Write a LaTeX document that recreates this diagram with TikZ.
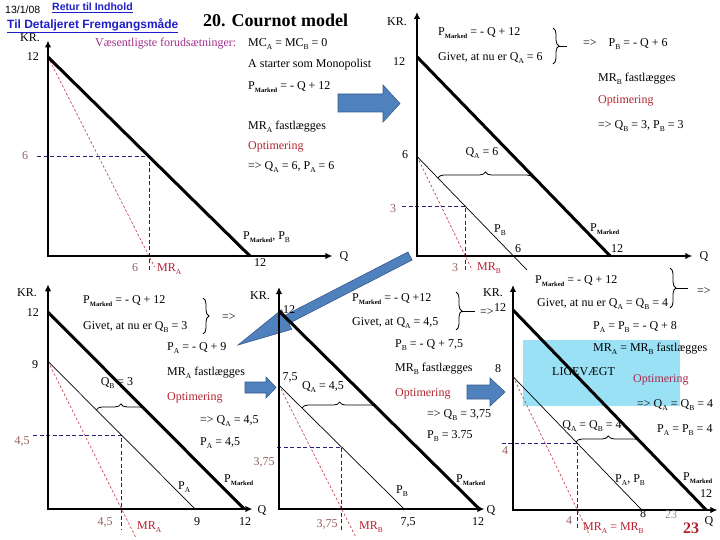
\documentclass[tikz,border=0pt]{standalone}
\usepackage{fontspec}
\setmainfont{Liberation Serif}
\setsansfont{Liberation Sans}
\usepackage{tikz}
\usetikzlibrary{calc,positioning,arrows.meta,decorations.pathreplacing}
\definecolor{linkc}{RGB}{30,30,200}
\definecolor{premc}{RGB}{160,45,140}
\definecolor{optc}{RGB}{175,35,45}
\definecolor{mrc}{RGB}{185,30,45}
\definecolor{tickc}{RGB}{150,95,95}
\definecolor{guidec}{RGB}{35,35,125}
\definecolor{arrc}{RGB}{79,129,189}
\definecolor{arrd}{RGB}{55,90,140}
\definecolor{eqc}{RGB}{155,225,245}
\newcommand{\bodyf}{\fontsize{12}{14}\selectfont}
\newcommand{\lsub}[1]{\raisebox{-0.45ex}{\fontsize{7.5}{8}\selectfont #1}}
\newcommand{\Pmk}{P\raisebox{-0.45ex}{\fontsize{6.5}{7}\selectfont\bfseries Marked}}
\tikzset{
  ax/.style={line width=2.4pt,{Latex[length=7pt,width=6.5pt]}-{Latex[length=7pt,width=6.5pt]}},
  dem/.style={line width=3pt},
  thn/.style={line width=0.7pt},
  mrl/.style={draw=mrc!80,line width=0.7pt,dash pattern=on 2.5pt off 2pt},
  gd/.style={draw=guidec,line width=0.9pt,dash pattern=on 4pt off 2.5pt},
  brc/.style={decorate,decoration={brace,amplitude=6pt},line width=0.8pt},
  txt/.style={anchor=west,inner sep=0pt,font=\bodyf},
  lab/.style={inner sep=0pt,font=\bodyf},
  tkl/.style={lab,text=tickc},
  mrt/.style={txt,text=mrc},
  blk/.style={fill=arrc,draw=arrd,line width=0.6pt},
}
\begin{document}
\begin{tikzpicture}[x=1pt,y=-1pt]
  \useasboundingbox (0,0) rectangle (720,540);
  % header
  \node[anchor=west,inner sep=0pt,font=\sffamily\fontsize{10.5}{12}\selectfont] (date) at (5,10) {13/1/08};
  \node[anchor=west,inner sep=0pt,font=\sffamily\bfseries\fontsize{10.5}{12}\selectfont,text=linkc] (ret) at (52,8) {\underline{Retur til Indhold}};
  \node[anchor=west,inner sep=0pt,font=\sffamily\bfseries\fontsize{12}{14}\selectfont,text=linkc] (det) at (7,26) {\underline{Til Detaljeret Fremgangsmåde}};
  \node[anchor=west,inner sep=0pt,font=\bfseries\fontsize{18}{20}\selectfont] (title) at (203,20) {20. Cournot model};
  % likevaegt box goes under everything
  \fill[eqc] (523,340) rectangle (680,406);
  % block arrows
  \filldraw[blk] (338,94) -- (383,94) -- (383,85) -- (400,103.5) -- (383,122) -- (383,112) -- (338,112) -- cycle;
  \filldraw[blk] (412.1,260) -- (288.8,323.5) -- (291.8,329.3) -- (238,345) -- (281.6,309.8) -- (284.6,315.5) -- (407.9,252) -- cycle;
  \filldraw[blk] (245,382) -- (266,382) -- (266,377) -- (276,387.5) -- (266,398) -- (266,393) -- (245,393) -- cycle;
  \filldraw[blk] (467,385) -- (490,385) -- (490,378) -- (505,392) -- (490,406) -- (490,399) -- (467,399) -- cycle;

  % panel 1: A som monopolist
  \begin{scope}[xshift=48pt,yshift=-256pt,x=16.83pt,y=16.58pt]
    \coordinate (o1) at (0,0); \coordinate (y1) at (0,13); \coordinate (x1) at (16.9,0);
    \coordinate (m1a) at (0,12); \coordinate (m1b) at (12,0); \coordinate (r1b) at (6.33,-0.66);
    \coordinate (g1) at (6,6); \coordinate (g1l) at (-0.65,6); \coordinate (g1d) at (6,-0.85);
    \draw[mrl] (m1a)--(r1b);
    \draw[gd] (g1l)--(g1)--(g1d);
    \draw[dem] (m1a)--(m1b);
    \draw[ax] (y1)--(o1)--(x1);
  \end{scope}
  \node[txt] (kr1) at (20,38) {KR.};
  \node[lab] (t1a) at (33,57) {12};
  \node[tkl] (t1b) at (25,156) {6}; \node[tkl] (t1c) at (135,268) {6};
  \node[mrt] (mra) at (157,269) {MR\lsub{A}};
  \node[txt] (pm1l) at (243,237) {\Pmk, P\lsub{B}};
  \node[lab] (t1d) at (260,263) {12}; \node[lab] (q1) at (344,256) {Q};
  \node[txt,text=premc] (forud) at (95,44) {Væsentligste forudsætninger:};
  \node[txt] (mc) at (248,44) {MC\lsub{A} = MC\lsub{B} = 0};
  \node[txt] (mono) at (248,65) {A starter som Monopolist};
  \node[txt] (pm1) at (248,87) {\Pmk{} = - Q + 12};
  \node[txt] (mra1) at (248,127) {MR\lsub{A} fastlægges};
  \node[txt,text=optc] (opt1) at (248,147) {Optimering};
  \node[txt] (res1) at (248,167) {=> Q\lsub{A} = 6, P\lsub{A} = 6};

  % panel 2: B svarer paa Q_A = 6
  \begin{scope}[xshift=417pt,yshift=-256pt,x=16.1pt,y=16.6pt]
    \coordinate (o2) at (0,0); \coordinate (y2) at (0,14.7); \coordinate (x2) at (17.1,0);
    \coordinate (m2a) at (0,12); \coordinate (m2b) at (12,0);
    \coordinate (p2a) at (0,6); \coordinate (p2b) at (6.83,-0.84); \coordinate (r2b) at (3.42,-0.84);
    \coordinate (g2) at (3,3); \coordinate (g2l) at (-0.93,3); \coordinate (g2d) at (3,-0.84);
    \coordinate (b2l) at (1.3,4.7); \coordinate (b2r) at (7.2,4.7);
    \draw[mrl] (p2a)--(r2b);
    \draw[gd] (g2l)--(g2)--(g2d);
    \draw[thn] (p2a)--(p2b);
    \draw[dem] (m2a)--(m2b);
    \draw[brc] (b2l)--(b2r);
    \draw[ax] (y2)--(o2)--(x2);
  \end{scope}
  \node[txt] (kr2) at (387,22) {KR.};
  \node[lab] (t2a) at (399,62) {12}; \node[lab] (t2b) at (405,155) {6};
  \node[tkl] (t2c) at (393,209) {3}; \node[tkl] (t2d) at (455,268) {3};
  \node[mrt] (mrb) at (477,268) {MR\lsub{B}};
  \node[lab] (t2e) at (518,249) {6};
  \node[txt] (pb2l) at (494,230) {P\lsub{B}};
  \node[txt] (pm2l) at (590,229) {\Pmk};
  \node[lab] (t2f) at (617,249) {12}; \node[lab] (q2) at (704,256) {Q};
  \node[lab] (qa2) at (482,153) {Q\lsub{A} = 6};
  \node[txt] (pm2) at (438,33) {\Pmk{} = - Q + 12};
  \node[txt] (giv2) at (438,58) {Givet, at nu er Q\lsub{A} = 6};
  \coordinate (c2t) at (553,28); \coordinate (c2b) at (553,64);
  \draw[brc] (c2t)--(c2b);
  \coordinate (k2a) at (559,46); \coordinate (k2b) at (567,46);
  \draw[line width=0.8pt] (k2a)--(k2b);
  \node[txt] (pb2) at (583,44) {=>\quad P\lsub{B} = - Q + 6};
  \node[txt] (mrb2) at (598,79) {MR\lsub{B} fastlægges};
  \node[txt,text=optc] (opt2) at (598,101) {Optimering};
  \node[txt] (res2) at (598,126) {=> Q\lsub{B} = 3, P\lsub{B} = 3};

  % panel 3: A svarer paa Q_B = 3
  \begin{scope}[xshift=48pt,yshift=-509pt,x=16.35pt,y=16.4pt]
    \coordinate (o3) at (0,0); \coordinate (y3) at (0,13.7); \coordinate (x3) at (12.5,0);
    \coordinate (m3a) at (0,12); \coordinate (m3b) at (12,0);
    \coordinate (p3a) at (0,9); \coordinate (p3b) at (9,0); \coordinate (r3b) at (5.35,-1.7);
    \coordinate (g3) at (4.5,4.5); \coordinate (g3l) at (-0.9,4.5); \coordinate (g3d) at (4.5,-1.3);
    \coordinate (b3l) at (2.96,6.04); \coordinate (b3r) at (5.96,6.04);
    \draw[mrl] (p3a)--(r3b);
    \draw[gd] (g3l)--(g3)--(g3d);
    \draw[thn] (p3a)--(p3b);
    \draw[dem] (m3a)--(m3b);
    \draw[brc] (b3l)--(b3r);
    \draw[ax] (y3)--(o3)--(x3);
  \end{scope}
  \node[txt] (kr3) at (17,293) {KR.};
  \node[lab] (t3a) at (33,313) {12}; \node[lab] (t3b) at (35,365) {9};
  \node[tkl] (t3c) at (22,441) {4,5}; \node[tkl] (t3d) at (105,522) {4,5};
  \node[mrt] (mra3) at (137,527) {MR\lsub{A}};
  \node[lab] (t3e) at (197,522) {9};
  \node[txt] (pa3l) at (178,487) {P\lsub{A}};
  \node[txt] (pm3l) at (224,480) {\Pmk};
  \node[lab] (t3f) at (245,522) {12}; \node[lab] (q3) at (262,510) {Q};
  \node[lab] (qb3) at (117,383) {Q\lsub{B} = 3};
  \node[txt] (pm3) at (83,301) {\Pmk{} = - Q + 12};
  \node[txt] (giv3) at (83,327) {Givet, at nu er Q\lsub{B} = 3};
  \coordinate (c3t) at (203,298); \coordinate (c3b) at (203,334);
  \draw[brc] (c3t)--(c3b);
  \node[txt] (im3) at (222,317) {=>};
  \node[txt] (pa3) at (167,348) {P\lsub{A} = - Q + 9};
  \node[txt] (mra3t) at (167,373) {MR\lsub{A} fastlægges};
  \node[txt,text=optc] (opt3) at (167,398) {Optimering};
  \node[txt] (res3) at (200,421) {=> Q\lsub{A} = 4,5};
  \node[txt] (pa3r) at (200,443) {P\lsub{A} = 4,5};

  % panel 4: B svarer paa Q_A = 4,5
  \begin{scope}[xshift=279pt,yshift=-509pt,x=16.7pt,y=16.5pt]
    \coordinate (o4) at (0,0); \coordinate (y4) at (0,13.45); \coordinate (x4) at (12.3,0);
    \coordinate (m4a) at (0,12); \coordinate (m4b) at (12,0);
    \coordinate (p4a) at (0,7.5); \coordinate (p4b) at (7.5,0); \coordinate (r4b) at (4.6,-1.7);
    \coordinate (g4) at (3.75,3.75); \coordinate (g4l) at (-0.1,3.75); \coordinate (g4d) at (3.75,-1.3);
    \coordinate (b4l) at (1.38,6.12); \coordinate (b4r) at (5.88,6.12);
    \draw[mrl] (p4a)--(r4b);
    \draw[gd] (g4l)--(g4)--(g4d);
    \draw[thn] (p4a)--(p4b);
    \draw[dem] (m4a)--(m4b);
    \draw[brc] (b4l)--(b4r);
    \draw[ax] (y4)--(o4)--(x4);
  \end{scope}
  \node[txt] (kr4) at (250,296) {KR.};
  \node[txt] (t4a) at (283,310) {12}; \node[lab] (t4b) at (290,377) {7,5};
  \node[tkl] (t4c) at (264,462) {3,75}; \node[tkl] (t4d) at (327,524) {3,75};
  \node[mrt] (mrb4) at (359,527) {MR\lsub{B}};
  \node[lab] (t4e) at (408,522) {7,5};
  \node[txt] (pb4l) at (396,491) {P\lsub{B}};
  \node[txt] (pm4l) at (456,480) {\Pmk};
  \node[lab] (t4f) at (478,522) {12}; \node[lab] (q4) at (491,510) {Q};
  \node[lab] (qa4) at (323,387) {Q\lsub{A} = 4,5};
  \node[txt] (pm4) at (352,299) {\Pmk{} = - Q +12};
  \node[txt] (giv4) at (352,323) {Givet, at Q\lsub{A} = 4,5};
  \coordinate (c4t) at (456,292); \coordinate (c4b) at (456,330);
  \draw[brc] (c4t)--(c4b);
  \coordinate (k4a) at (462,311); \coordinate (k4b) at (475,311);
  \draw[line width=0.8pt] (k4a)--(k4b);
  \node[txt] (im4) at (480,312) {=>};
  \node[txt] (pb4) at (395,345) {P\lsub{B} = - Q + 7,5};
  \node[txt] (mrb4t) at (395,369) {MR\lsub{B} fastlægges};
  \node[txt,text=optc] (opt4) at (395,394) {Optimering};
  \node[txt] (res4) at (427,415) {=> Q\lsub{B} = 3,75};
  \node[txt] (pb4r) at (427,436) {P\lsub{B} = 3.75};

  % panel 5: ligevaegt
  \begin{scope}[xshift=513pt,yshift=-510pt,x=16.1pt,y=16.67pt]
    \coordinate (o5) at (0,0); \coordinate (y5) at (0,13.5); \coordinate (x5) at (12.7,0);
    \coordinate (m5a) at (0,12); \coordinate (m5b) at (12,0);
    \coordinate (p5a) at (0,8); \coordinate (p5b) at (8,0); \coordinate (r5b) at (4.75,-1.5);
    \coordinate (g5) at (4,4); \coordinate (g5l) at (-0.7,4); \coordinate (g5d) at (4,-1.2);
    \coordinate (b5l) at (3.92,4.08); \coordinate (b5r) at (7.92,4.08);
    \draw[mrl] (p5a)--(r5b);
    \draw[gd] (g5l)--(g5)--(g5d);
    \draw[thn] (p5a)--(p5b);
    \draw[dem] (m5a)--(m5b);
    \draw[brc] (b5l)--(b5r);
    \draw[ax] (y5)--(o5)--(x5);
  \end{scope}
  \node[txt] (kr5) at (483,293) {KR.};
  \node[lab] (t5a) at (500,308) {12}; \node[lab] (t5b) at (498,369) {8};
  \node[tkl] (t5c) at (505,451) {4}; \node[tkl] (t5d) at (569,521) {4};
  \node[mrt] (mr5) at (583,528) {MR\lsub{A} = MR\lsub{B}};
  \node[lab] (t5e) at (643,514) {8};
  \node[txt] (pab5l) at (615,480) {P\lsub{A}, P\lsub{B}};
  \node[txt] (pm5l) at (683,478) {\Pmk};
  \node[lab] (t5f) at (706,494) {12};
  \node[lab,text=black!40] (sl1) at (671,515) {23};
  \node[lab,text=optc,font=\bfseries\fontsize{16}{18}\selectfont] (sl2) at (691,528) {23};
  \node[lab] (q5) at (709,521) {Q};
  \node[lab] (qab5) at (592,426) {Q\lsub{A} = Q\lsub{B} = 4};
  \node[txt] (pab5) at (657,430) {P\lsub{A} = P\lsub{B} = 4};
  \node[txt] (pm5) at (535,281) {\Pmk{} = - Q + 12};
  \node[txt] (giv5) at (537,304) {Givet, at nu er Q\lsub{A} = Q\lsub{B} = 4};
  \coordinate (c5t) at (670,268); \coordinate (c5b) at (670,308);
  \draw[brc] (c5t)--(c5b);
  \coordinate (k5a) at (676,288); \coordinate (k5b) at (688,288);
  \draw[line width=0.8pt] (k5a)--(k5b);
  \node[txt] (im5) at (697,291) {=>};
  \node[txt] (pab5r) at (593,327) {P\lsub{A} = P\lsub{B} = - Q + 8};
  \node[txt] (mr5t) at (593,349) {MR\lsub{A} = MR\lsub{B} fastlægges};
  \node[txt] (lv) at (552,372) {LIGEVÆGT};
  \node[txt,text=optc!70!premc] (opt5) at (633,380) {Optimering};
  \node[txt] (res5) at (637,405) {=> Q\lsub{A} = Q\lsub{B} = 4};
\end{tikzpicture}
\end{document}
